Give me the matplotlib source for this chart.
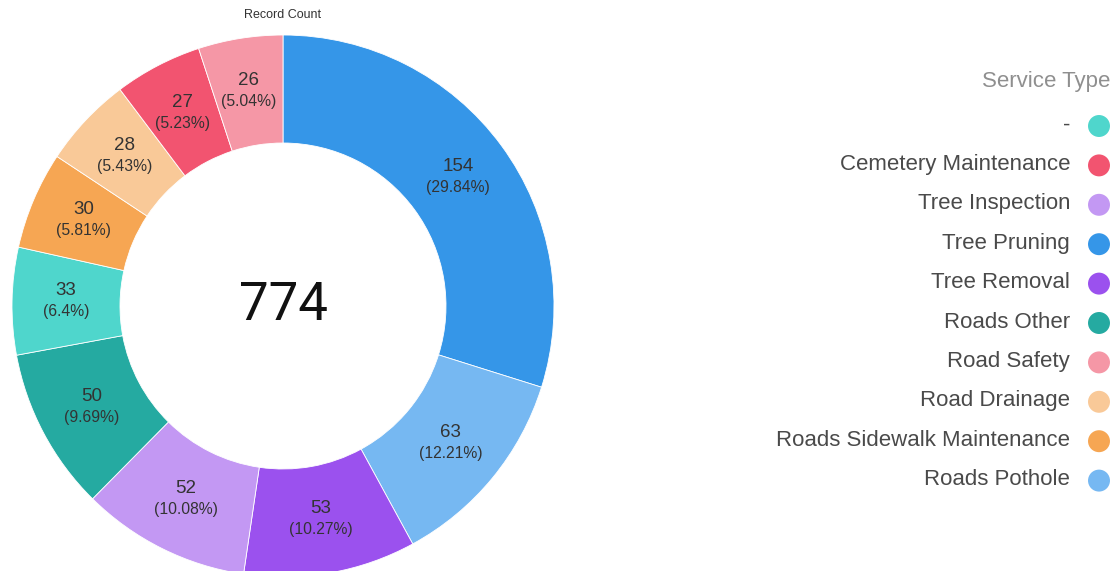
import numpy as np
import matplotlib.pyplot as plt

# slices in drawing order (clockwise from 12 o'clock)
slice_names = ['Tree Pruning', 'Roads Pothole', 'Tree Removal', 'Tree Inspection',
               'Roads Other', '-', 'Roads Sidewalk Maintenance', 'Road Drainage',
               'Cemetery Maintenance', 'Road Safety']
slice_values = [154, 63, 53, 52, 50, 33, 30, 28, 27, 26]
slice_pcts = ['29.84%', '12.21%', '10.27%', '10.08%', '9.69%', '6.4%', '5.81%', '5.43%', '5.23%', '5.04%']
slice_colors = ['#3596E8', '#76B8F2', '#9B51EE', '#C398F3', '#25AAA1',
                '#4FD6CC', '#F6A653', '#F9C998', '#F25470', '#F597A6']

# legend order as shown
legend_names = ['-', 'Cemetery Maintenance', 'Tree Inspection', 'Tree Pruning', 'Tree Removal',
                'Roads Other', 'Road Safety', 'Road Drainage', 'Roads Sidewalk Maintenance',
                'Roads Pothole']
total_label = '774'

W, H = 1114, 571
fig = plt.figure(figsize=(W / 100, H / 100), dpi=100)
ax = fig.add_axes([0, 0, 1, 1])

# pixel coordinates, y measured from the top
cx, cy, R, r_in = 283, 306, 271, 163
wedges, _ = ax.pie(slice_values, colors=slice_colors, startangle=90, counterclock=False,
                   center=(cx, H - cy), radius=R,
                   wedgeprops=dict(width=R - r_in, edgecolor='white', linewidth=0.6),
                   frame=True)
ax.set_xlim(0, W)
ax.set_ylim(0, H)
ax.set_aspect('equal')
ax.axis('off')

font = 'Liberation Sans'
rl = (R + r_in) / 2
for w, v, p in zip(wedges, slice_values, slice_pcts):
    ang = np.radians((w.theta1 + w.theta2) / 2)
    x = cx + rl * np.cos(ang)
    y = (H - cy) + rl * np.sin(ang)
    ax.text(x, y + 3, str(v), ha='center', va='bottom', fontsize=13.5, color='#333333', family=font)
    ax.text(x, y - 2, '(' + p + ')', ha='center', va='top', fontsize=11.3, color='#333333', family=font)

ax.text(cx, H - cy, total_label, ha='center', va='center', fontsize=38, color='#111111', family='Roboto')
ax.text(cx, H - 15, 'Record Count', ha='center', va='center', fontsize=9, color='#333333', family=font)

# legend
ax.text(1110, H - 82, 'Service Type', ha='right', va='center', fontsize=16, color='#8f8f8f', family=font)
cmap = dict(zip(slice_names, slice_colors))
y0, dy = 125, 39.4
for i, name in enumerate(legend_names):
    yy = H - (y0 + i * dy)
    ax.text(1070, yy, name, ha='right', va='center', fontsize=16, color='#4a4a4a', family=font)
    ax.scatter([1099], [yy - 1], s=250, color=cmap[name], edgecolors='none')

fig.savefig('out.png', dpi=100)
